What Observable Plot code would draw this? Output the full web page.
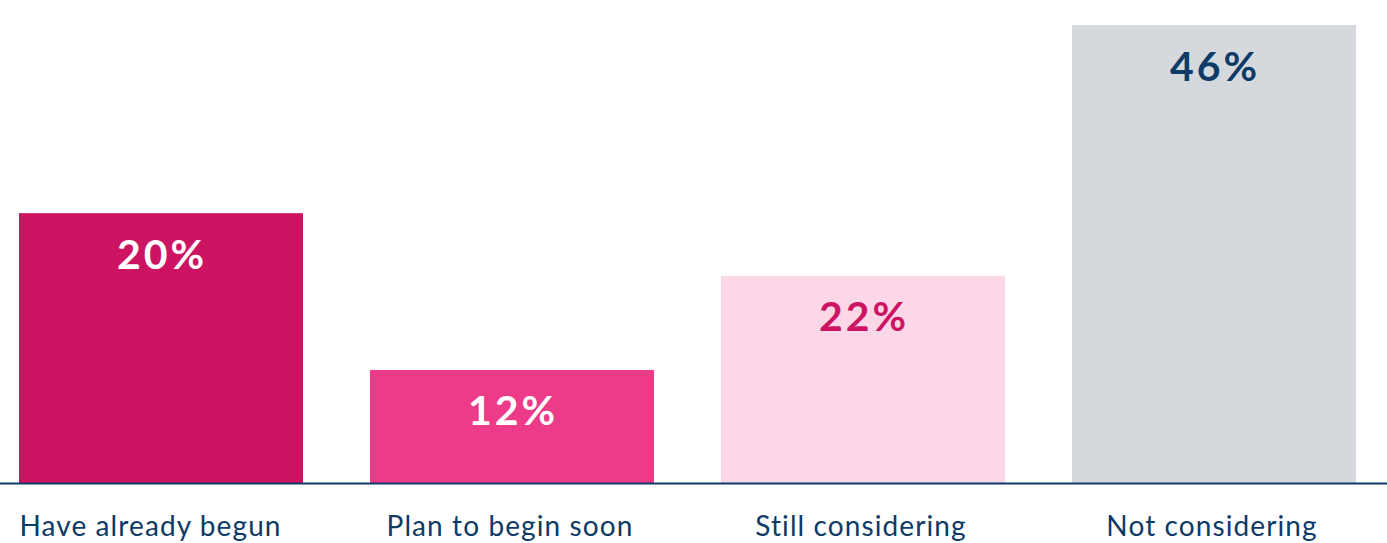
<!DOCTYPE html>
<html>
<head>
<meta charset="utf-8">
<script src="https://cdn.jsdelivr.net/npm/d3@7"></script>
<script src="https://cdn.jsdelivr.net/npm/@observablehq/plot@0.6"></script>
<style>
  html, body { margin: 0; padding: 0; background: #ffffff; }
  #chart svg { display: block; }
  g[aria-description="values"] text { letter-spacing: 3px; }
  g[aria-description="categories"] text { letter-spacing: 1.1px; }
</style>
</head>
<body>
<div id="chart"></div>
<script>
// Categories along the x axis
const categories = ["Have already begun", "Plan to begin soon", "Still considering", "Not considering"];
// Bar heights as drawn in the picture (percent scale)
const barHeights = [27.1, 11.35, 20.8, 46];
// Value labels printed inside the bars
const valueLabels = ["20%", "12%", "22%", "46%"];
// Colours
const barColors = ["#cd1463", "#ec3b88", "#fbd7e7", "#d5d8dd"];
const labelColors = ["#ffffff", "#ffffff", "#cd1463", "#0d3a66"];

const data = categories.map((c, i) => ({
  category: c,
  height: barHeights[i],
  label: valueLabels[i],
  fill: barColors[i],
  labelFill: labelColors[i]
}));

const navy = "#0d3a66";

const catStyle = {
  fontSize: 28,
  fill: navy,
  frameAnchor: "bottom",
  lineAnchor: "bottom",
  ariaDescription: "categories",
  dy: 52
};

const chart = Plot.plot({
  width: 1387,
  height: 543,
  marginTop: 25,
  marginBottom: 60,
  marginLeft: 0,
  marginRight: 0,
  style: { fontFamily: "Lato, 'Open Sans', sans-serif", background: "#ffffff" },
  x: {
    domain: categories,
    paddingInner: 0.1909,
    paddingOuter: 0.0712,
    align: 0.38,
    label: null,
    axis: null
  },
  y: { domain: [0, 46], axis: null },
  marks: [
    Plot.barY(data, { x: "category", y: "height", fill: "fill" }),
    Plot.text(data, {
      x: "category",
      y: "height",
      text: "label",
      fill: "labelFill",
      fontSize: 41,
      fontWeight: "bold",
      lineAnchor: "bottom",
      dy: 55,
      dx: 0.5,
      ariaDescription: "values"
    }),
    Plot.ruleY([0], { stroke: navy, strokeWidth: 2 }),
    // first category label kept inside the left edge
    Plot.text(data.slice(0, 1), {
      x: "category",
      text: "category",
      textAnchor: "start",
      dx: -142,
      ...catStyle
    }),
    Plot.text(data.slice(1), {
      x: "category",
      text: "category",
      dx: -2.5,
      ...catStyle
    })
  ]
});

document.getElementById("chart").appendChild(chart);
</script>
</body>
</html>
